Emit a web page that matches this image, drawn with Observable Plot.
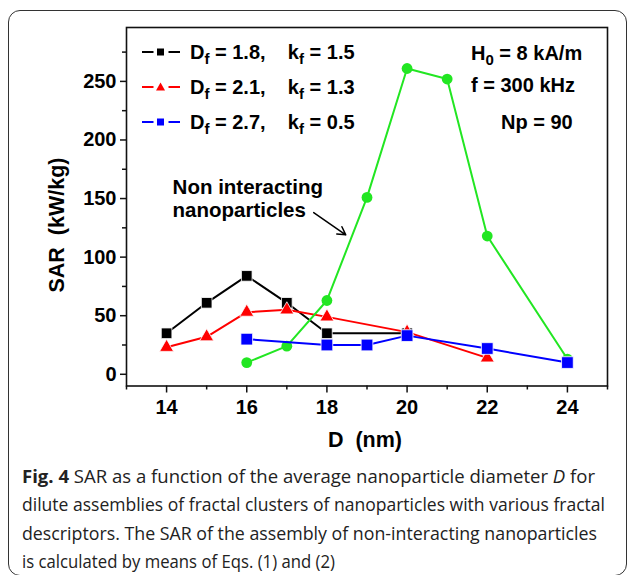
<!DOCTYPE html>
<html>
<head>
<meta charset="utf-8">
<script src="https://cdn.jsdelivr.net/npm/d3@7"></script>
<script src="https://cdn.jsdelivr.net/npm/@observablehq/plot@0.6"></script>
<style>
  html, body { margin: 0; padding: 0; background: #fff; }
  #wrap { position: relative; width: 629px; height: 575px; overflow: hidden; font-family: "Liberation Sans", Arial, sans-serif; color: #000; }
  #box { position: absolute; left: 8px; top: 10px; width: 619px; height: 566px; border: 1.5px solid #333; border-radius: 12px; box-sizing: border-box; pointer-events: none; }
  #chart { position: absolute; left: 0; top: 0; }
  .ov { position: absolute; white-space: nowrap; font-weight: bold; font-size: 20px; line-height: 20px; }
  .ov sub { font-size: 15px; vertical-align: -5px; line-height: 0; }
  .leg { position: absolute; left: 142px; height: 20px; display: flex; align-items: center; white-space: nowrap; font-weight: bold; font-size: 20px; }
  .leg svg { margin-right: 10px; }
  .leg sub { font-size: 15px; vertical-align: -5px; line-height: 0; }
  #ylab { position: absolute; left: 57px; top: 225px; transform: translate(-50%, -50%) rotate(-90deg); font-weight: bold; font-size: 21.5px; white-space: pre; }
  #xlab { position: absolute; left: 365px; top: 440px; transform: translate(-50%, -50%); font-weight: bold; font-size: 21.5px; white-space: pre; }
  #cap { position: absolute; left: 22px; top: 462px; font-family: "Open Sans", sans-serif; font-size: 18px; line-height: 28.3px; color: #222; }
  #cap div { white-space: nowrap; transform-origin: left center; width: max-content; }
</style>
</head>
<body>
<div id="wrap">
  <div id="chart"></div>
  <div class="leg" id="leg1"></div>
  <div class="leg" id="leg2"></div>
  <div class="leg" id="leg3"></div>
  <div class="ov" style="left:471px; top:43px;">H<sub>0</sub> = 8 kA/m</div>
  <div class="ov" style="left:471px; top:75px;">f = 300 kHz</div>
  <div class="ov" style="left:501px; top:112px;">Np = 90</div>
  <div id="ylab">SAR  (kW/kg)</div>
  <div id="xlab">D  (nm)</div>
  <div id="cap">
    <div><b>Fig. 4</b> SAR as a function of the average nanoparticle diameter <i>D</i> for</div>
    <div>dilute assemblies of fractal clusters of nanoparticles with various fractal</div>
    <div>descriptors. The SAR of the assembly of non-interacting nanoparticles</div>
    <div>is calculated by means of Eqs. (1) and (2)</div>
  </div>
  <div id="box"></div>
</div>
<script>
// ---- data ----
const D_a = [14, 15, 16, 17, 18, 20];
const SAR_a = [35, 61, 84, 61, 35, 35];            // Df = 1.8, kf = 1.5
const D_b = [14, 15, 16, 17, 18, 20, 22];
const SAR_b = [23, 32, 53, 55, 49, 36, 14];        // Df = 2.1, kf = 1.3
const D_c = [16, 18, 19, 20, 22, 24];
const SAR_c = [30, 25, 25, 33, 22, 10];            // Df = 2.7, kf = 0.5
const D_n = [16, 17, 18, 19, 20, 21, 22, 24];
const SAR_n = [10, 24, 63, 151, 261, 252, 118, 13]; // non interacting

const xTicks = [14, 16, 18, 20, 22, 24];
const xMinor = [13, 15, 17, 19, 21, 23, 25];
const yTicks = [0, 50, 100, 150, 200, 250];
const yMinor = [25, 75, 125, 175, 225, 275];

const seriesNames = ["Df = 1.8, kf = 1.5", "Df = 2.1, kf = 1.3", "Df = 2.7, kf = 0.5", "Non interacting"];
const seriesColors = ["#000000", "#ff0000", "#0000ff", "#22e622"];

const annoLines = ["Non interacting", "nanoparticles"];
const annoX = [14.15, 14.15];
const annoY = [154, 134];
const arrowFrom = [17.67, 138];
const arrowTo = [18.47, 119];

// ---- build tables ----
const toRows = (xs, ys, s) => xs.map((x, i) => ({ D: x, SAR: ys[i], s }));
const rowsA = toRows(D_a, SAR_a, seriesNames[0]);
const rowsB = toRows(D_b, SAR_b, seriesNames[1]);
const rowsC = toRows(D_c, SAR_c, seriesNames[2]);
const rowsN = toRows(D_n, SAR_n, seriesNames[3]);
const anno = annoLines.map((t, i) => ({ t, x: annoX[i], y: annoY[i] }));

const chart = Plot.plot({
  width: 629,
  height: 450,
  marginLeft: 126,
  marginRight: 22,
  marginTop: 27,
  marginBottom: 64.5,
  x: { domain: [13, 25] },
  y: { domain: [-10, 296] },
  style: "font-family:'Liberation Sans',Arial,sans-serif;font-size:20px;font-weight:bold;color:#000;background:transparent;",
  marks: [
    Plot.axisX({ ticks: xTicks, tickSize: 7, tickPadding: 7, label: null, tickFormat: d => d, stroke: "#111", strokeWidth: 1.5 }),
    Plot.axisX({ ticks: xMinor, tickSize: 4, label: null, tickFormat: () => "", stroke: "#111", strokeWidth: 1.5 }),
    Plot.axisY({ ticks: yTicks, tickSize: 6, tickPadding: 4, label: null, tickFormat: d => d, stroke: "#111", strokeWidth: 1.5 }),
    Plot.axisY({ ticks: yMinor, tickSize: 4, label: null, tickFormat: () => "", stroke: "#111", strokeWidth: 1.5 }),
    Plot.frame({ stroke: "#111", strokeWidth: 1.6 }),
    Plot.line(rowsA, { x: "D", y: "SAR", stroke: seriesColors[0], strokeWidth: 2 }),
    Plot.dot(rowsA, { x: "D", y: "SAR", symbol: "square", fill: seriesColors[0], stroke: "#fff", strokeWidth: 0.8, r: 6 }),
    Plot.line(rowsB, { x: "D", y: "SAR", stroke: seriesColors[1], strokeWidth: 2 }),
    Plot.dot(rowsB, { x: "D", y: "SAR", symbol: "triangle", fill: seriesColors[1], stroke: "#fff", strokeWidth: 0.8, r: 5.2 }),
    Plot.line(rowsN, { x: "D", y: "SAR", stroke: seriesColors[3], strokeWidth: 2 }),
    Plot.dot(rowsN, { x: "D", y: "SAR", symbol: "circle", fill: seriesColors[3], r: 5.4 }),
    Plot.line(rowsC, { x: "D", y: "SAR", stroke: seriesColors[2], strokeWidth: 2 }),
    Plot.dot(rowsC, { x: "D", y: "SAR", symbol: "square", fill: seriesColors[2], stroke: "#fff", strokeWidth: 0.8, r: 6.6 }),
    Plot.arrow([{ x1: arrowFrom[0], y1: arrowFrom[1], x2: arrowTo[0], y2: arrowTo[1] }],
      { x1: "x1", y1: "y1", x2: "x2", y2: "y2", stroke: "#000", strokeWidth: 1.5, headLength: 9 }),
    Plot.text(anno, { x: "x", y: "y", text: "t", textAnchor: "start", lineAnchor: "bottom", fontSize: 20.5, fontWeight: "bold", fill: "#000" })
  ]
});
document.getElementById("chart").appendChild(chart);

// ---- legend ----
const legSymbols = ["square", "triangle", "square"];
const legVals = [["1.8", "1.5"], ["2.1", "1.3"], ["2.7", "0.5"]];
const legTops = [42, 77, 112];
legVals.forEach((v, i) => {
  const el = document.getElementById("leg" + (i + 1));
  el.style.top = legTops[i] + "px";
  const c = seriesColors[i];
  const marker = legSymbols[i] === "square"
    ? `<rect x="15" y="6.5" width="7" height="7" fill="${c}"/>`
    : `<polygon points="18.5,5.5 23,13.5 14,13.5" fill="${c}"/>`;
  el.innerHTML = `<svg width="38" height="20"><line x1="0" x2="11.5" y1="10" y2="10" stroke="${c}" stroke-width="2"/><line x1="26.5" x2="38" y1="10" y2="10" stroke="${c}" stroke-width="2"/>${marker}</svg><span>D<sub>f</sub> = ${v[0]},&nbsp;&nbsp;&nbsp;&nbsp;k<sub>f</sub> = ${v[1]}</span>`;
});

// ---- caption line fitting ----
const capWidths = [573, 583, 575, 290];
const capLines = [...document.querySelectorAll("#cap div")];
const scales = capWidths.map((t, i) => t / capLines[i].getBoundingClientRect().width);
const meanScale = d3.mean(scales.slice(0, 3));
capLines.forEach((d, i) => {
  const s = i < 3 ? scales[i] : (scales[i] + meanScale) / 2;
  d.style.transform = `scaleX(${s})`;
});
</script>
</body>
</html>
